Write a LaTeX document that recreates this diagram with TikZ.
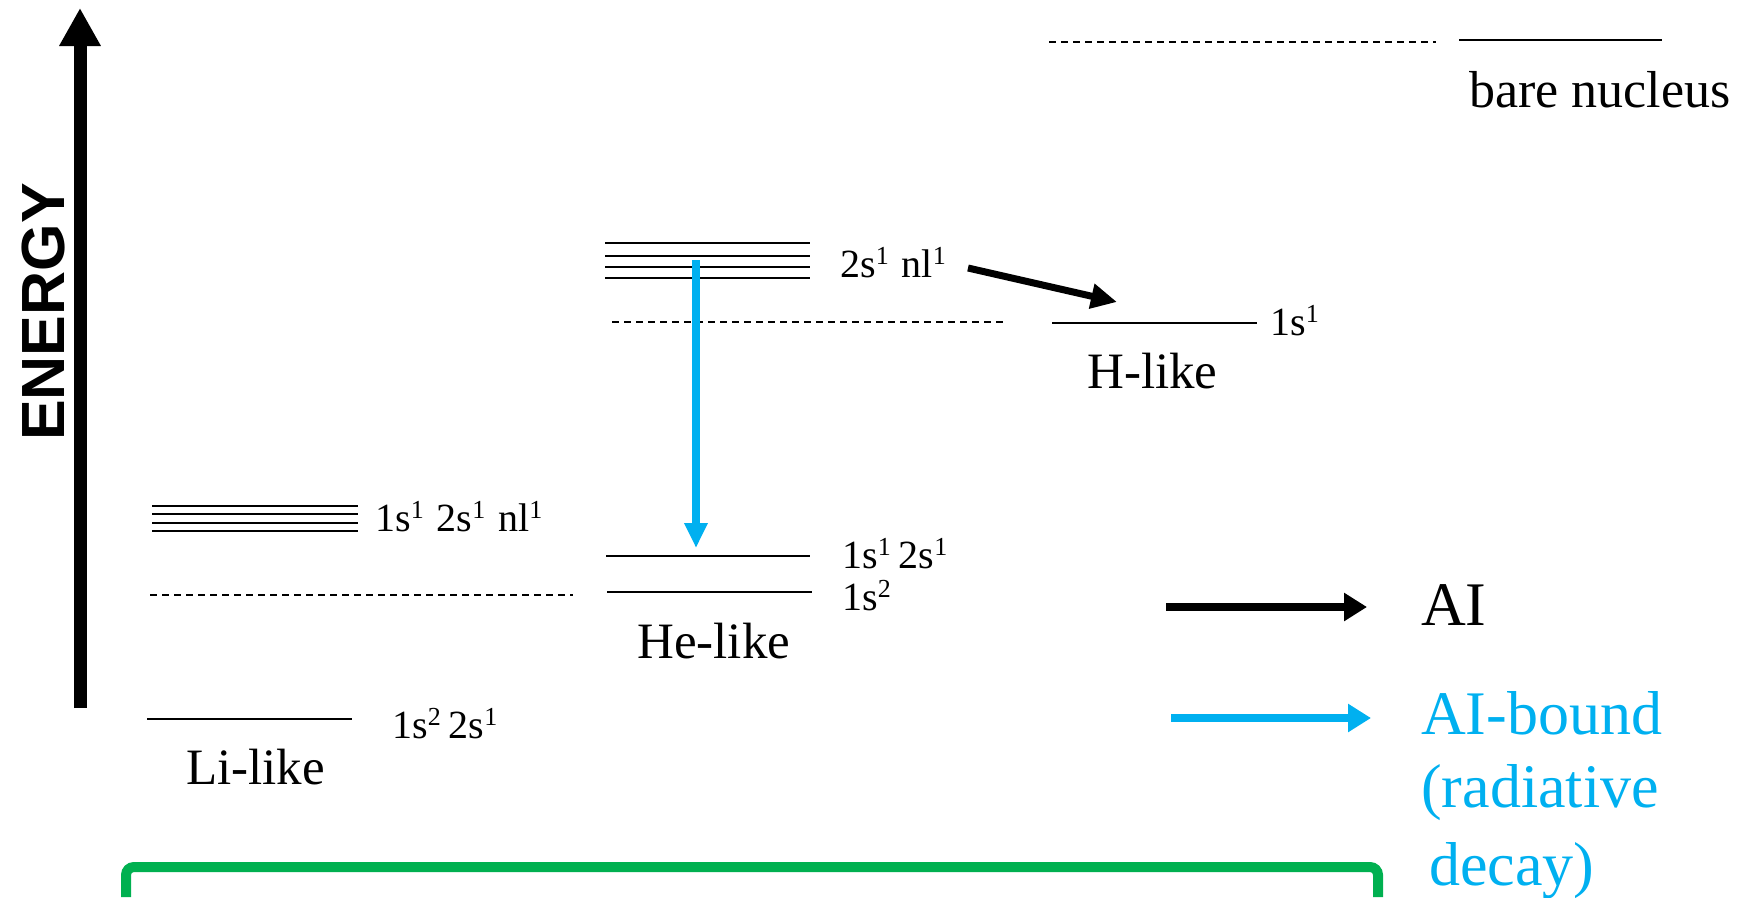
\documentclass[tikz,border=0pt]{standalone}
\usepackage{fontspec}
\setmainfont{Liberation Serif}
\newfontfamily\sansfam{Liberation Sans}
\usetikzlibrary{arrows.meta}
\definecolor{aiblue}{HTML}{00B0F0}
\definecolor{boxgreen}{HTML}{00B050}
\newcommand\su[1]{\raisebox{13pt}{\fontsize{26}{26}\selectfont #1}}
\newcommand\gap{\hspace{13pt}}
\begin{document}
\begin{tikzpicture}[x=1pt,y=-1pt,
  level/.style={line width=2.2pt},
  dashlevel/.style={line width=1.6pt, dash pattern=on 7pt off 5pt},
  lab/.style={anchor=base west, inner sep=0pt, font=\fontsize{40}{48}\selectfont},
  ion/.style={anchor=base west, inner sep=0pt, font=\fontsize{51}{60}\selectfont},
  leg/.style={anchor=base west, inner sep=0pt, font=\fontsize{62}{78}\selectfont},
  aiarrow/.style={line width=7pt, -{Triangle[length=26pt,width=24pt]}},
  boundarrow/.style={aiblue, line width=7.5pt, -{Triangle[length=25pt,width=22pt]}},
  legarrow/.style={line width=8pt, -{Triangle[length=23pt,width=27pt]}},
]
\useasboundingbox (0,0) rectangle (1745,897);

% energy axis
\coordinate (ebot) at (80,708);
\coordinate (etop) at (80,8);
\draw[line width=13pt, -{Triangle[length=38pt,width=39pt]}] (ebot) -- (etop);
\node[rotate=90, anchor=base, inner sep=0pt, font=\sansfam\bfseries\fontsize{61}{61}\selectfont] (energy) at (64,312) {ENERGY};

% Li-like
\foreach \y in {506,514,523,531} \draw[level] (152,\y) -- (358,\y);
\node[lab] (li1) at (375,531) {1s\su{1}\gap 2s\su{1}\gap nl\su{1}};
\draw[dashlevel] (150,595) -- (573,595);
\draw[level] (147,719) -- (352,719);
\node[lab] (li0) at (392,738) {1s\su{2}\hspace{8pt}2s\su{1}};
\node[ion] (lilike) at (186,784) {Li-like};

% He-like
\foreach \y in {243,256,267,278} \draw[level] (605,\y) -- (810,\y);
\node[lab] (he2) at (840,277) {2s\su{1}\gap nl\su{1}};
\draw[dashlevel] (612,322) -- (1005,322);
\draw[level] (606,556) -- (810,556);
\node[lab] (he1) at (842,568) {1s\su{1}\hspace{8pt}2s\su{1}};
\draw[level] (607,592) -- (812,592);
\node[lab] (he0) at (842,610) {1s\su{2}};
\node[ion] (helike) at (637,658) {He-like};

% H-like
\draw[level] (1052,323) -- (1257,323);
\node[lab] (h0) at (1270,335) {1s\su{1}};
\node[ion] (hlike) at (1087,388) {H-like};

% bare nucleus
\draw[dashlevel] (1049,42) -- (1436,42);
\draw[level] (1459,40) -- (1662,40);
\node[ion, font=\fontsize{52}{60}\selectfont] (bare) at (1469,107) {bare nucleus};

% transitions
\coordinate (bs) at (696,260);
\coordinate (be) at (696,548);
\draw[boundarrow] (bs) -- (be);
\coordinate (ks) at (968,268);
\coordinate (ke) at (1117,302);
\draw[aiarrow] (ks) -- (ke);

% legend
\coordinate (l1s) at (1166,607);
\coordinate (l1e) at (1367,607);
\draw[legarrow] (l1s) -- (l1e);
\node[leg] (ai) at (1421,625) {AI};
\coordinate (l2s) at (1171,718);
\coordinate (l2e) at (1371,718);
\draw[legarrow, aiblue] (l2s) -- (l2e);
\node[leg, text=aiblue] (aib) at (1421,734) {AI-bound};
\node[leg, text=aiblue] (rad) at (1421,807) {(radiative};
\node[leg, text=aiblue] (dec) at (1429,885) {decay)};

% green box
\draw[boxgreen, line width=10pt, rounded corners=8pt] (126,897) -- (126,867) -- (1378,867) -- (1378,897);
\end{tikzpicture}
\end{document}
